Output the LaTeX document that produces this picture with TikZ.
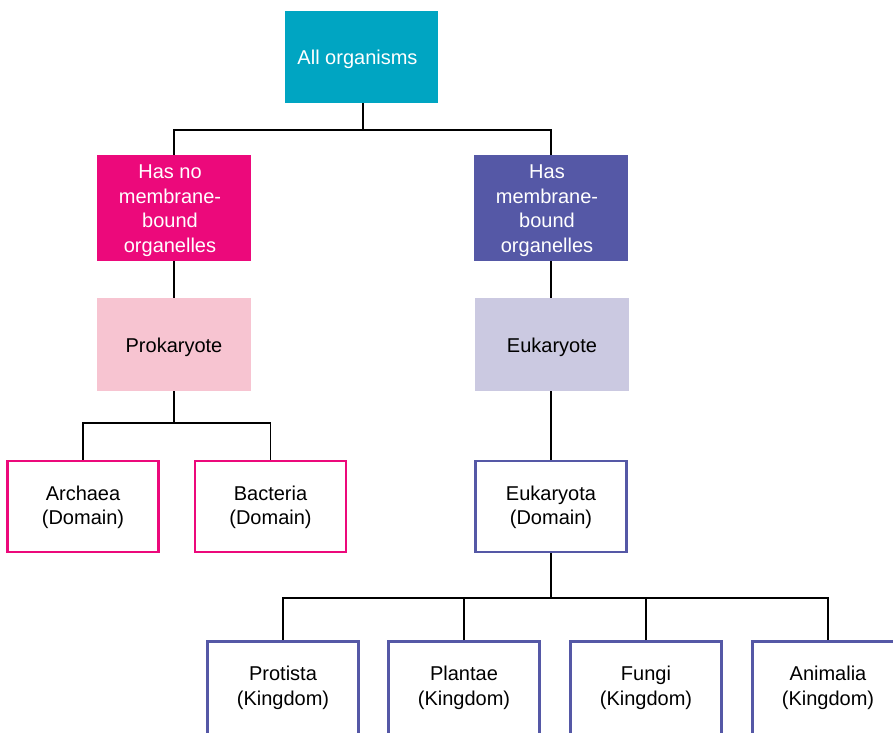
\documentclass[tikz,border=0pt]{standalone}
\usepackage{fontspec}
\setmainfont{Liberation Sans}
\definecolor{cyanbox}{HTML}{00A5C2}
\definecolor{magbox}{HTML}{EC097B}
\definecolor{bluebox}{HTML}{5558A6}
\definecolor{pinkbox}{HTML}{F7C4D1}
\definecolor{lavbox}{HTML}{CBC9E1}
\begin{document}
\begin{tikzpicture}[x=1pt,y=-1pt,
  every node/.style={font=\fontsize{20}{24.5}\selectfont, align=center, inner sep=0pt},
  fillbox/.style={minimum width=154pt, minimum height=#1},
  framebox/.style={draw=#1, line width=2.6pt, minimum width=151pt, minimum height=91pt},
  conn/.style={draw=black, line width=1.3pt}]
\clip (0,0) rectangle (893,732);
% boxes
\node[fillbox=92pt, fill=cyanbox, minimum width=153pt] (all) at (361.5,57) {};
\node[fillbox=106pt, fill=magbox] (nomem) at (174,208) {};
\node[fillbox=106pt, fill=bluebox] (mem) at (551,208) {};
\node[fillbox=93pt, fill=pinkbox] (pro) at (174,344.5) {};
\node[fillbox=93pt, fill=lavbox] (euk) at (552,344.5) {};
\node[framebox=magbox] (arch) at (83,506.5) {};
\node[framebox=magbox] (bact) at (270.5,506.5) {};
\node[framebox=bluebox] (eukd) at (551,506.5) {};
\node[framebox=bluebox, minimum height=100pt] (prot) at (283,691.5) {};
\node[framebox=bluebox, minimum height=100pt] (plan) at (464,691.5) {};
\node[framebox=bluebox, minimum height=100pt] (fung) at (646,691.5) {};
\node[framebox=bluebox, minimum height=100pt] (anim) at (828,691.5) {};
% labels
\node[text=white, yshift=-2pt, xshift=-4pt] (allT) at (all) {All organisms};
\node[text=white, yshift=-2.5pt, xshift=-4pt] (nomemT) at (nomem) {Has no\\membrane-\\bound\\organelles};
\node[text=white, yshift=-2.5pt, xshift=-4pt] (memT) at (mem) {Has\\membrane-\\bound\\organelles};
\node[yshift=-2.5pt] (proT) at (pro) {Prokaryote};
\node[yshift=-2.5pt] (eukT) at (euk) {Eukaryote};
\node[yshift=-1pt] (archT) at (arch) {Archaea\\(Domain)};
\node[yshift=-1pt] (bactT) at (bact) {Bacteria\\(Domain)};
\node[yshift=-1pt] (eukdT) at (eukd) {Eukaryota\\(Domain)};
\node (protT) at (283,688) {Protista\\(Kingdom)};
\node (planT) at (464,688) {Plantae\\(Kingdom)};
\node (fungT) at (646,688) {Fungi\\(Kingdom)};
\node (animT) at (828,688) {Animalia\\(Kingdom)};
% connectors
\coordinate (j1) at (363,130);
\coordinate (j2) at (174,423);
\coordinate (j3) at (551,598);
\draw[conn] (all.south -| j1) -- (j1);
\draw[conn] (nomem.north) |- (j1) -| (mem.north);
\draw[conn] (nomem.south) -- (pro.north);
\draw[conn] (mem.south) -- (euk.north -| mem.south);
\draw[conn] (pro.south) -- (j2);
\draw[conn] (arch.north) |- (j2) -| (bact.north);
\draw[conn] (euk.south -| eukd.north) -- (eukd.north);
\draw[conn] (eukd.south) -- (j3);
\draw[conn] (prot.north) |- (j3) -| (anim.north);
\draw[conn] (plan.north) -- (plan.north |- j3);
\draw[conn] (fung.north) -- (fung.north |- j3);
\end{tikzpicture}
\end{document}
